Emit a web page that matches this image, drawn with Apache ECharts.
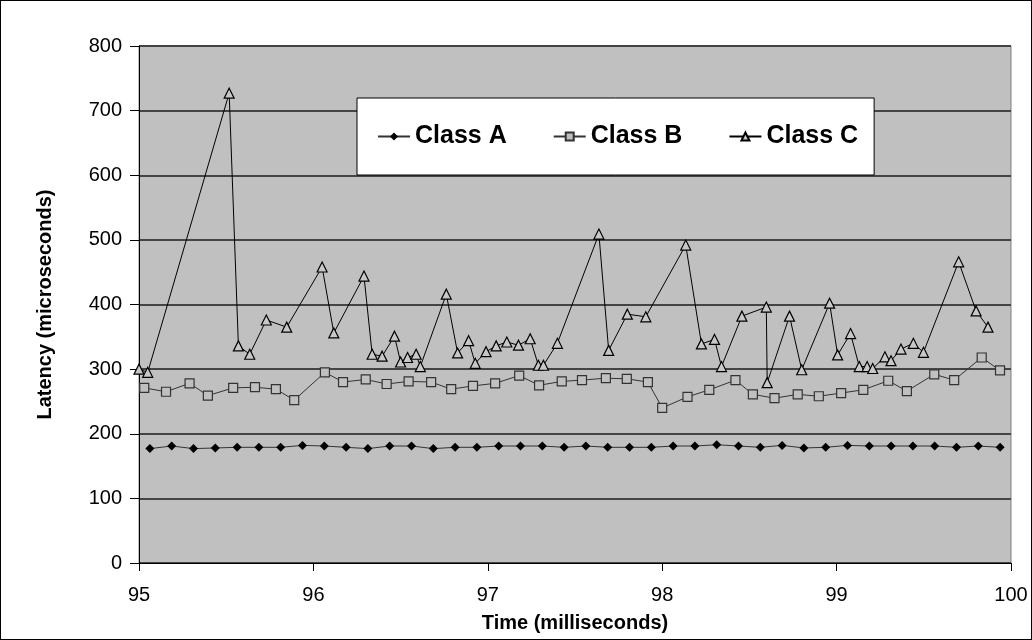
<!DOCTYPE html>
<html><head><meta charset="utf-8">
<script src="https://cdn.jsdelivr.net/npm/echarts@6/dist/echarts.min.js"></script>
<style>html,body{margin:0;padding:0;background:#fff}#c{width:1032px;height:640px;box-sizing:border-box;border:1px solid #000}</style>
</head><body><div id="c"></div><script>
const seriesNames = ['Class A', 'Class B', 'Class C'];
const classA_time = [95.0625,95.1875,95.3125,95.4375,95.5625,95.6875,95.8125,95.9375,96.0625,96.1875,96.3125,96.4375,96.5625,96.6875,96.8125,96.9375,97.0625,97.1875,97.3125,97.4375,97.5625,97.6875,97.8125,97.9375,98.0625,98.1875,98.3125,98.4375,98.5625,98.6875,98.8125,98.9375,99.0625,99.1875,99.3125,99.4375,99.5625,99.6875,99.8125,99.9375];
const classA_latency = [177,181,177,178,179,179,179,182,181,179,177,181,181,177,179,179,181,181,181,179,181,179,179,179,181,181,183,181,179,182,178,179,182,181,181,181,181,179,181,179];
const classB_time = [95.03,95.155,95.29,95.395,95.54,95.665,95.785,95.89,96.066,96.17,96.30,96.42,96.546,96.675,96.79,96.915,97.042,97.18,97.294,97.424,97.54,97.677,97.797,97.918,98.0,98.145,98.27,98.42,98.52,98.644,98.777,98.898,99.026,99.153,99.296,99.403,99.56,99.674,99.832,99.937];
const classB_latency = [271,265,278,259,271,272,269,252,295,280,284,277,281,280,269,274,278,290,275,281,283,286,285,280,240,257,268,283,261,255,261,258,263,268,282,266,292,283,318,298];
const classC_time = [95.0,95.05,95.517,95.57,95.635,95.73,95.847,96.05,96.117,96.29,96.337,96.394,96.465,96.5,96.54,96.589,96.613,96.762,96.827,96.89,96.928,96.99,97.048,97.109,97.176,97.243,97.29,97.319,97.399,97.637,97.693,97.80,97.906,98.135,98.225,98.30,98.34,98.457,98.597,98.602,98.73,98.80,98.96,99.006,99.08,99.13,99.175,99.207,99.277,99.312,99.369,99.44,99.498,99.70,99.80,99.868];
const classC_latency = [300,295,727,336,323,376,365,458,356,444,323,320,351,311,318,323,304,416,325,344,309,327,336,342,337,347,306,306,340,509,329,385,381,492,339,346,304,382,396,279,382,299,402,322,355,304,304,301,319,313,331,340,326,466,390,365];
const xTicks = {min: 95, max: 100, step: 1};
const yTicks = {min: 0, max: 800, step: 100};

const zip = (a, b) => a.map((t, i) => [t, b[i]]);
const font = '"Liberation Sans", Arial, sans-serif';
const chart = echarts.init(document.getElementById('c'), null, {renderer: 'canvas'});
chart.setOption({
  animation: false,
  backgroundColor: '#fff',
  grid: {left: 138, right: 20, top: 45, bottom: 76, show: true, backgroundColor: '#C0C0C0', borderColor: '#808080', borderWidth: 1},
  legend: {
    left: 356, top: 97, orient: 'horizontal',
    backgroundColor: '#fff', borderColor: '#000', borderWidth: 1,
    padding: [26, 16, 26, 20], itemGap: 46, itemWidth: 32, itemHeight: 10,
    textStyle: {fontFamily: font, fontSize: 25, fontWeight: 'bold', color: '#000'},
    data: seriesNames
  },
  xAxis: {
    type: 'value', min: xTicks.min, max: xTicks.max, interval: xTicks.step,
    name: 'Time (milliseconds)', nameLocation: 'middle', nameGap: 50,
    nameTextStyle: {fontFamily: font, fontSize: 20, fontWeight: 'bold', color: '#000'},
    axisLine: {show: true, lineStyle: {color: '#000', width: 1}},
    axisTick: {show: true, length: 8, inside: false, lineStyle: {color: '#000'}},
    axisLabel: {margin: 22, fontFamily: font, fontSize: 20, color: '#000'},
    splitLine: {show: false}
  },
  yAxis: {
    type: 'value', min: yTicks.min, max: yTicks.max, interval: yTicks.step,
    name: 'Latency (microseconds)', nameLocation: 'middle', nameGap: 84,
    nameTextStyle: {fontFamily: font, fontSize: 20, fontWeight: 'bold', color: '#000'},
    axisLine: {show: true, lineStyle: {color: '#000', width: 1}},
    axisTick: {show: true, length: 9, lineStyle: {color: '#000'}},
    axisLabel: {margin: 17, fontFamily: font, fontSize: 20, color: '#000'},
    splitLine: {show: true, lineStyle: {color: '#444', width: 2}}
  },
  series: [
    {name: seriesNames[0], type: 'line', data: zip(classA_time, classA_latency),
     symbol: 'diamond', symbolSize: 9, itemStyle: {color: '#000'},
     lineStyle: {color: '#333', width: 1}, z: 3},
    {name: seriesNames[1], type: 'line', data: zip(classB_time, classB_latency),
     symbol: 'rect', symbolSize: 9, itemStyle: {color: '#C0C0C0', borderColor: '#333', borderWidth: 1.2},
     lineStyle: {color: '#333', width: 1}, z: 3},
    {name: seriesNames[2], type: 'line', data: zip(classC_time, classC_latency),
     symbol: 'triangle', symbolSize: 10, itemStyle: {color: '#C8C8C8', borderColor: '#000', borderWidth: 1.2},
     lineStyle: {color: '#000', width: 1}, z: 4}
  ]
});
</script></body></html>
